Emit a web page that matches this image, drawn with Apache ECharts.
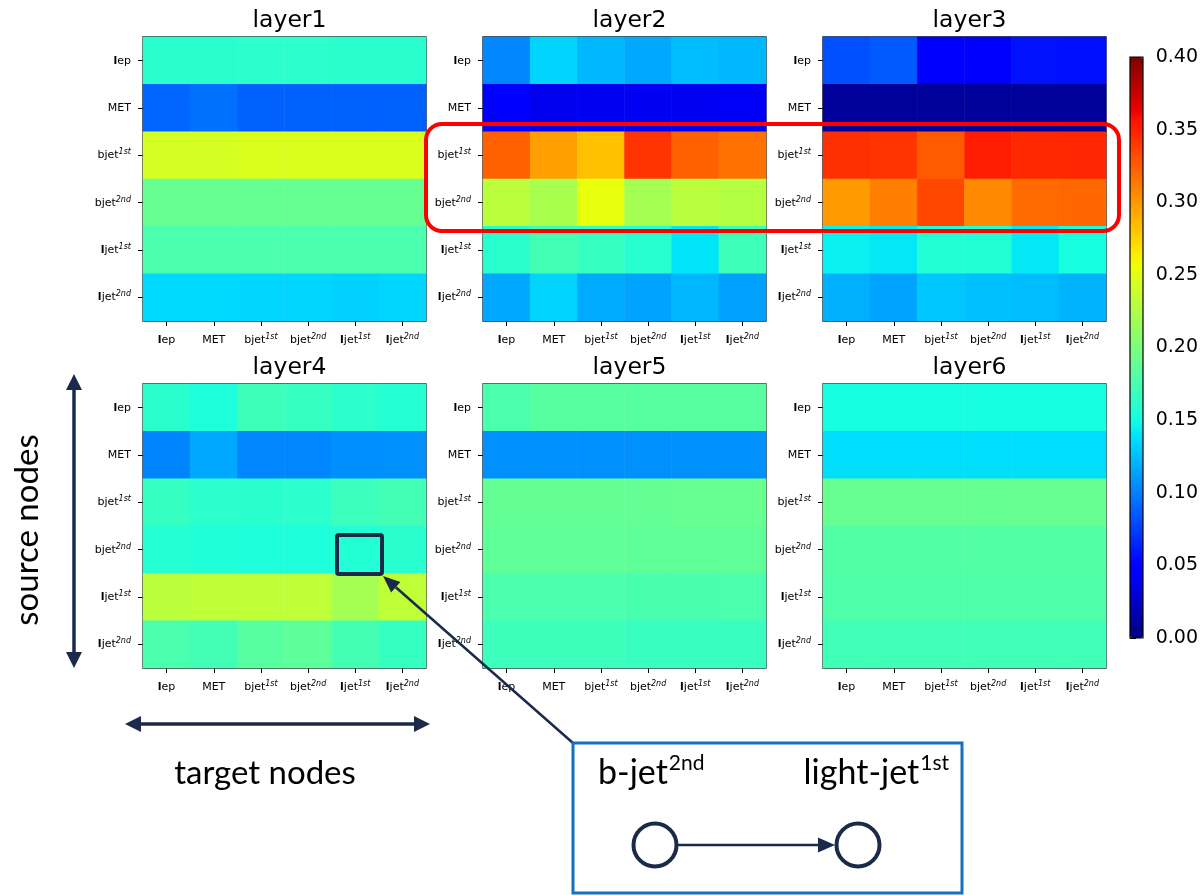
<!DOCTYPE html>
<html>
<head>
<meta charset="utf-8">
<script src="https://cdn.jsdelivr.net/npm/echarts@6/dist/echarts.min.js"></script>
<style>
  html, body { margin: 0; padding: 0; background: #fff; }
  #chart { width: 1201px; height: 895px; }
</style>
</head>
<body>
<div id="chart"></div>
<script>
// Node labels (base text + superscript)
const nodeBase = ['lep', 'MET', 'bjet', 'bjet', 'ljet', 'ljet'];
const nodeSup  = ['', '', '1st', '2nd', '1st', '2nd'];

const layerNames = ['layer1', 'layer2', 'layer3', 'layer4', 'layer5', 'layer6'];

// Attention weights: rows = source node, columns = target node
const layer1 = [
  [0.160, 0.160, 0.161, 0.161, 0.160, 0.160],
  [0.090, 0.094, 0.088, 0.088, 0.088, 0.088],
  [0.243, 0.243, 0.246, 0.246, 0.246, 0.246],
  [0.190, 0.190, 0.189, 0.189, 0.189, 0.189],
  [0.176, 0.176, 0.176, 0.176, 0.176, 0.176],
  [0.135, 0.135, 0.134, 0.134, 0.132, 0.134]
];
const layer2 = [
  [0.103, 0.133, 0.122, 0.116, 0.124, 0.122],
  [0.050, 0.038, 0.040, 0.040, 0.040, 0.042],
  [0.323, 0.297, 0.283, 0.342, 0.323, 0.316],
  [0.231, 0.222, 0.253, 0.220, 0.230, 0.228],
  [0.160, 0.172, 0.166, 0.159, 0.140, 0.170],
  [0.116, 0.133, 0.117, 0.114, 0.122, 0.113]
];
const layer3 = [
  [0.081, 0.085, 0.050, 0.050, 0.057, 0.056],
  [0.009, 0.009, 0.009, 0.009, 0.009, 0.009],
  [0.344, 0.342, 0.326, 0.352, 0.347, 0.348],
  [0.299, 0.310, 0.334, 0.306, 0.319, 0.320],
  [0.144, 0.141, 0.156, 0.156, 0.141, 0.151],
  [0.119, 0.114, 0.128, 0.125, 0.124, 0.120]
];
const layer4 = [
  [0.160, 0.154, 0.170, 0.166, 0.161, 0.158],
  [0.102, 0.116, 0.103, 0.103, 0.106, 0.107],
  [0.166, 0.161, 0.160, 0.161, 0.168, 0.172],
  [0.158, 0.155, 0.154, 0.154, 0.157, 0.160],
  [0.231, 0.233, 0.233, 0.233, 0.220, 0.233],
  [0.176, 0.172, 0.182, 0.185, 0.173, 0.166]
];
const layer5 = [
  [0.176, 0.182, 0.182, 0.182, 0.182, 0.183],
  [0.107, 0.107, 0.107, 0.107, 0.107, 0.107],
  [0.188, 0.188, 0.188, 0.188, 0.190, 0.190],
  [0.186, 0.186, 0.186, 0.186, 0.186, 0.186],
  [0.176, 0.176, 0.176, 0.175, 0.175, 0.176],
  [0.169, 0.169, 0.169, 0.167, 0.167, 0.167]
];
const layer6 = [
  [0.151, 0.151, 0.151, 0.151, 0.151, 0.151],
  [0.137, 0.137, 0.137, 0.137, 0.137, 0.137],
  [0.190, 0.190, 0.190, 0.189, 0.190, 0.190],
  [0.180, 0.180, 0.180, 0.180, 0.180, 0.180],
  [0.178, 0.178, 0.178, 0.178, 0.178, 0.178],
  [0.171, 0.171, 0.171, 0.171, 0.171, 0.171]
];
const layers = [layer1, layer2, layer3, layer4, layer5, layer6];

// Colour bar range and ticks
const vMin = 0, vMax = 0.4, vStep = 0.05;

// "jet" colormap, piecewise linear in r, g, b
function piece(pts, t) {
  for (let i = 1; i < pts.length; i++) {
    if (t <= pts[i][0]) {
      const [x0, y0] = pts[i - 1], [x1, y1] = pts[i];
      return y0 + (y1 - y0) * (t - x0) / (x1 - x0);
    }
  }
  return pts[pts.length - 1][1];
}
function jet(t) {
  const r = piece([[0, 0], [0.35, 0], [0.66, 1], [0.89, 1], [1, 0.5]], t);
  const g = piece([[0, 0], [0.125, 0], [0.375, 1], [0.64, 1], [0.91, 0], [1, 0]], t);
  const b = piece([[0, 0.5], [0.11, 1], [0.34, 1], [0.65, 0], [1, 0]], t);
  const h = v => Math.round(v * 255).toString(16).padStart(2, '0');
  return '#' + h(r) + h(g) + h(b);
}
const jetStops = [];
for (let i = 0; i <= 200; i++) jetStops.push(jet(i / 200));

const FONT = 'DejaVu Sans';
const NAVY = '#1b2a4b';

function labelText(i) {
  const base = nodeBase[i];
  let s = base.startsWith('l') ? '{l|l}{n|' + base.slice(1) + '}' : '{n|' + base + '}';
  if (nodeSup[i]) s += '{s|' + nodeSup[i] + '}';
  return s;
}
const labelRich = {
  n: { fontSize: 11, fontFamily: FONT, color: '#000', lineHeight: 14 },
  l: { fontSize: 11, fontFamily: FONT, color: '#000', fontWeight: 'bold', lineHeight: 14 },
  s: { fontSize: 8, fontFamily: FONT, color: '#000', fontStyle: 'italic', verticalAlign: 'top', lineHeight: 14, padding: [0, 0, 4, 0] }
};

// Panel placement
const colLeft = [143, 483, 823];
const rowTop = [37, 384];
const panelW = 283, panelH = 284;

const grids = [], xAxes = [], yAxes = [], series = [], titles = [];
const idx = nodeBase.map((_, i) => i);

layers.forEach((m, k) => {
  const left = colLeft[k % 3], top = rowTop[Math.floor(k / 3)];
  grids.push({ left, top, width: panelW, height: panelH, show: true, borderColor: '#111', borderWidth: 1.3, backgroundColor: 'transparent' });
  xAxes.push({
    type: 'category', gridIndex: k, data: idx, position: 'bottom',
    axisLine: { show: false }, splitLine: { show: false },
    axisTick: { show: true, interval: 0, alignWithLabel: true, length: 5, lineStyle: { color: '#000', width: 1 } },
    axisLabel: { interval: 0, margin: 12, formatter: v => labelText(+v), rich: labelRich }
  });
  yAxes.push({
    type: 'category', gridIndex: k, data: idx, inverse: true,
    axisLine: { show: false }, splitLine: { show: false },
    axisTick: { show: true, interval: 0, alignWithLabel: true, length: 5, lineStyle: { color: '#000', width: 1 } },
    axisLabel: { interval: 0, margin: 12, formatter: v => labelText(+v), rich: labelRich }
  });
  const data = [];
  m.forEach((row, r) => row.forEach((v, c) => data.push([c, r, v])));
  series.push({ type: 'heatmap', xAxisIndex: k, yAxisIndex: k, data, itemStyle: { borderWidth: 0 }, emphasis: { disabled: true } });
  titles.push({
    text: layerNames[k], left: left + panelW / 2, top: top - 33, textAlign: 'center',
    textStyle: { fontFamily: FONT, fontSize: 23.5, fontWeight: 'normal', color: '#000' }
  });
});

// Colour bar axis
const cbLeft = 1130, cbTop = 57, cbW = 13, cbH = 581;
grids.push({ left: cbLeft, top: cbTop, width: cbW, height: cbH, show: false });
xAxes.push({ type: 'value', gridIndex: 6, show: false, min: 0, max: 1 });
yAxes.push({
  type: 'value', gridIndex: 6, position: 'right', min: vMin, max: vMax, interval: vStep,
  axisLine: { show: false }, splitLine: { show: false },
  axisTick: { show: true, length: 6, lineStyle: { color: '#000', width: 1 } },
  axisLabel: { margin: 14, fontFamily: FONT, fontSize: 19, color: '#000', formatter: v => v.toFixed(2) }
});
series.push({ type: 'scatter', xAxisIndex: 6, yAxisIndex: 6, data: [], silent: true });

// Annotation shapes
function arrowHead(tip, from, len, half) {
  const dx = tip[0] - from[0], dy = tip[1] - from[1];
  const L = Math.hypot(dx, dy), ux = dx / L, uy = dy / L;
  const bx = tip[0] - ux * len, by = tip[1] - uy * len;
  return { base: [bx, by], points: [tip, [bx - uy * half, by + ux * half], [bx + uy * half, by - ux * half]] };
}
const graphics = [];
// colour bar frame
graphics.push({ type: 'rect', z: 100, shape: { x: cbLeft, y: cbTop, width: cbW, height: cbH }, style: { fill: 'none', stroke: '#000', lineWidth: 1.2 } });
// red highlight around b-jet rows of layer2 and layer3
graphics.push({ type: 'rect', z: 100, shape: { x: 426, y: 124, width: 693, height: 107, r: 16 }, style: { fill: 'none', stroke: '#ff0000', lineWidth: 4 } });
// highlighted cell in layer4
graphics.push({ type: 'rect', z: 100, shape: { x: 337, y: 535, width: 45, height: 39, r: 2 }, style: { fill: 'none', stroke: NAVY, lineWidth: 4 } });
// pointer arrow to the zoom box
{
  const tip = [383, 576], from = [573, 743];
  const h = arrowHead(tip, from, 17, 7);
  graphics.push({ type: 'line', z: 100, shape: { x1: from[0], y1: from[1], x2: h.base[0], y2: h.base[1] }, style: { stroke: NAVY, lineWidth: 2.5 } });
  graphics.push({ type: 'polygon', z: 100, shape: { points: h.points }, style: { fill: NAVY } });
}
// vertical double arrow (source nodes)
{
  const x = 74, y1 = 374, y2 = 668;
  graphics.push({ type: 'line', z: 100, shape: { x1: x, y1: y1 + 12, x2: x, y2: y2 - 12 }, style: { stroke: NAVY, lineWidth: 3.5 } });
  graphics.push({ type: 'polygon', z: 100, shape: { points: [[x, y1], [x - 8, y1 + 16], [x + 8, y1 + 16]] }, style: { fill: NAVY } });
  graphics.push({ type: 'polygon', z: 100, shape: { points: [[x, y2], [x - 8, y2 - 16], [x + 8, y2 - 16]] }, style: { fill: NAVY } });
}
// horizontal double arrow (target nodes)
{
  const y = 724, x1 = 125, x2 = 430;
  graphics.push({ type: 'line', z: 100, shape: { x1: x1 + 12, y1: y, x2: x2 - 12, y2: y }, style: { stroke: NAVY, lineWidth: 3.5 } });
  graphics.push({ type: 'polygon', z: 100, shape: { points: [[x1, y], [x1 + 16, y - 8], [x1 + 16, y + 8]] }, style: { fill: NAVY } });
  graphics.push({ type: 'polygon', z: 100, shape: { points: [[x2, y], [x2 - 16, y - 8], [x2 - 16, y + 8]] }, style: { fill: NAVY } });
}
const ANN = 'Lato';
graphics.push({ type: 'text', z: 100, x: 27, y: 530, rotation: Math.PI / 2,
  style: { text: 'source nodes', font: '33px ' + ANN, fill: '#000', align: 'center', verticalAlign: 'middle' } });
graphics.push({ type: 'text', z: 100, x: 265, y: 773,
  style: { text: 'target nodes', font: '33px ' + ANN, fill: '#000', align: 'center', verticalAlign: 'middle' } });
// zoom box
graphics.push({ type: 'rect', z: 100, shape: { x: 573, y: 743, width: 389, height: 150 }, style: { fill: '#fff', stroke: '#1570c0', lineWidth: 3 } });
const annRich = {
  m: { fontFamily: ANN, fontSize: 34, lineHeight: 40, fill: '#000', color: '#000' },
  s: { fontFamily: ANN, fontSize: 21, lineHeight: 40, fill: '#000', color: '#000', verticalAlign: 'top', padding: [0, 0, 0, 1] }
};
graphics.push({ type: 'text', z: 101, x: 598, y: 753,
  style: { text: '{m|b-jet}{s|2nd}', rich: annRich, align: 'left', verticalAlign: 'top' } });
graphics.push({ type: 'text', z: 101, x: 949, y: 753,
  style: { text: '{m|light-jet}{s|1st}', rich: annRich, align: 'right', verticalAlign: 'top' } });
graphics.push({ type: 'circle', z: 101, shape: { cx: 655, cy: 845, r: 21.5 }, style: { fill: '#fff', stroke: NAVY, lineWidth: 4 } });
graphics.push({ type: 'circle', z: 101, shape: { cx: 858, cy: 845, r: 21.5 }, style: { fill: '#fff', stroke: NAVY, lineWidth: 4 } });
graphics.push({ type: 'line', z: 101, shape: { x1: 678, y1: 845, x2: 820, y2: 845 }, style: { stroke: NAVY, lineWidth: 2.5 } });
graphics.push({ type: 'polygon', z: 101, shape: { points: [[835, 845], [818, 837.5], [818, 852.5]] }, style: { fill: NAVY } });

const chart = echarts.init(document.getElementById('chart'), null, { renderer: 'canvas' });
chart.setOption({
  animation: false,
  backgroundColor: '#fff',
  title: titles,
  grid: grids,
  xAxis: xAxes,
  yAxis: yAxes,
  visualMap: {
    type: 'continuous', min: vMin, max: vMax, seriesIndex: [0, 1, 2, 3, 4, 5],
    orient: 'vertical', left: cbLeft, top: cbTop, itemWidth: cbW, itemHeight: cbH,
    padding: 0, calculable: false, hoverLink: false, text: null, showLabel: false,
    inRange: { color: jetStops }
  },
  series,
  graphic: graphics
});
</script>
</body>
</html>
